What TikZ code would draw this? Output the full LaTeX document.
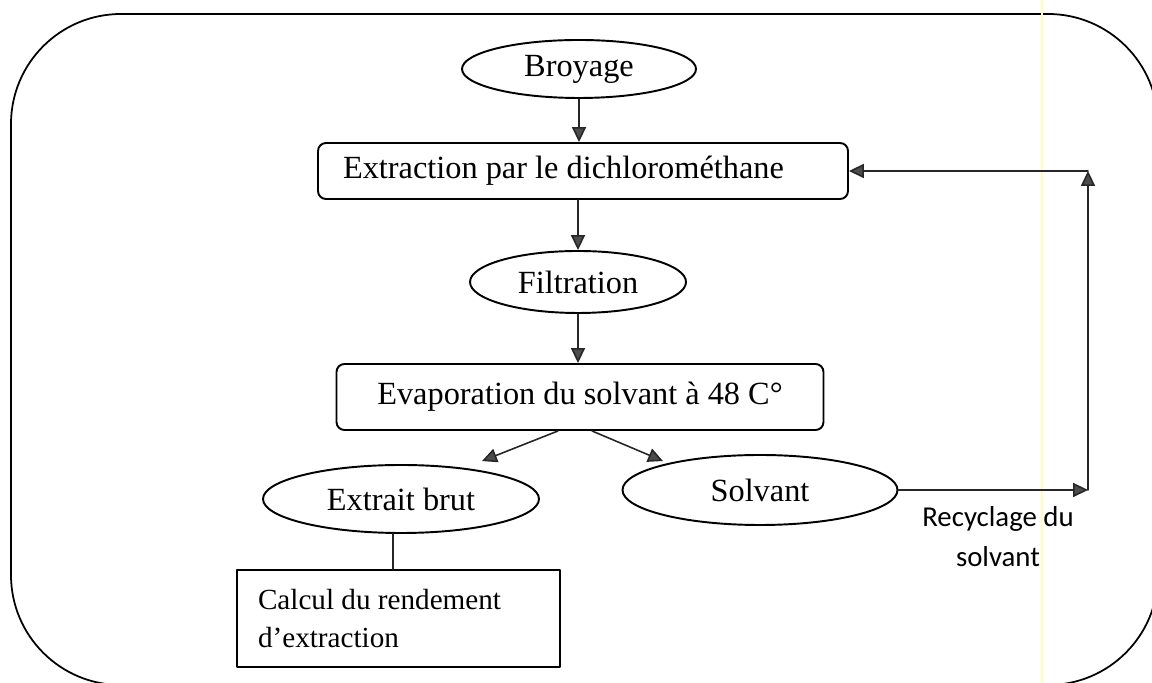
\documentclass[tikz,border=0pt]{standalone}
\usepackage{fontspec}
\setmainfont{Liberation Serif}
\newfontfamily\recfont{Carlito}
\usetikzlibrary{arrows.meta,shapes.geometric}

\begin{document}
\begin{tikzpicture}[
    >={Triangle[length=8.5pt,width=8pt,fill=black!70]},
    line cap=round,
    line join=round,
    every node/.style={font=\fontsize{18.4}{22}\selectfont},
    stage/.style={draw,ellipse,line width=1.1pt,inner sep=0pt},
    process/.style={draw,rectangle,rounded corners=0.16cm,line width=1.1pt,inner sep=0pt},
    flow/.style={->,line width=0.9pt,black!85}
]

% Page and outer frame
\useasboundingbox (0,0) rectangle (23.04,13.66);
\clip (0,0) rectangle (23.04,13.66);
\draw[line width=1pt,rounded corners=2.2cm] (0.22,13.38) rectangle (23.16,-0.04);

% Scan line
\draw[yellow!25,line width=0.8pt] (20.84,0) -- (20.84,13.66);

% Steps
\node[stage,minimum width=4.68cm,minimum height=1.16cm] (broyage) at (11.58,12.28) {Broyage};
\node[process,text width=9.6cm,inner xsep=0.5cm,align=flush left,minimum height=1.12cm]
    (extraction) at (11.66,10.24) {Extraction par le dichlorométhane};
\node[stage,minimum width=4.32cm,minimum height=1.24cm] (filtration) at (11.56,8.02) {Filtration};
\node[process,minimum width=9.74cm,minimum height=1.32cm] (evaporation) at (11.6,5.72)
    {Evaporation du solvant à 48 C°};
\node[stage,minimum width=5.52cm,minimum height=1.36cm] (extrait) at (8.02,3.68) {Extrait brut};
\node[stage,minimum width=5.5cm,minimum height=1.4cm] (solvant) at (15.2,3.86) {Solvant};

% Yield box
\node[draw,rectangle,line width=1pt,minimum width=6.46cm,minimum height=1.94cm,
    text width=5.62cm,inner xsep=0.42cm,align=flush left,
    font=\fontsize{16.6}{21.5}\selectfont] (calcul) at (7.97,1.29)
    {Calcul du rendement\\d’extraction};

% Main flow
\draw[flow] (broyage.south) -- (broyage.south |- extraction.north);
\draw[flow] (filtration.north |- extraction.south) -- (filtration.north);
\draw[flow] (filtration.south) -- (filtration.south |- evaporation.north);
\draw[flow] ([xshift=-0.44cm]evaporation.south) -- ([xshift=1.62cm,yshift=0.06cm]extrait.north);
\draw[flow] ([xshift=0.24cm]evaporation.south) -- ([xshift=-1.94cm,yshift=-0.14cm]solvant.north);
\draw[line width=0.9pt,black!85] ([xshift=-0.16cm]extrait.south) -- ([xshift=-0.16cm]extrait.south |- calcul.north);

% Solvent recycling loop
\coordinate (recA) at (21.76,3.86);
\coordinate (recB) at (21.76,10.24);
\draw[flow] (solvant.east) -- (recA);
\draw[flow] (recA) -- (recB);
\draw[flow] (recB) -- (extraction.east);

\node[align=center,font=\recfont\fontsize{16.4}{22.7}\selectfont] (recyclage) at (19.96,2.92)
    {Recyclage du\\solvant};

\end{tikzpicture}
\end{document}
